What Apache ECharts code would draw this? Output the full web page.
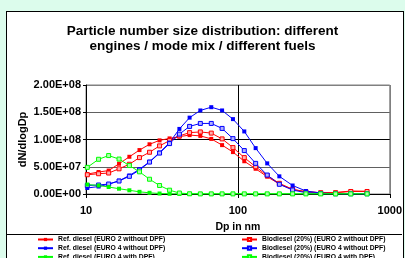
<!DOCTYPE html>
<html>
<head>
<meta charset="utf-8">
<script src="https://cdn.jsdelivr.net/npm/echarts@6/dist/echarts.min.js"></script>
<style>
html,body{margin:0;padding:0;background:#dcfcec;width:405px;height:258px;overflow:hidden;}
#panel{position:absolute;left:6px;top:11px;width:396px;height:260px;border:1px solid #000;background:#fff;}
#chart{position:absolute;left:0;top:0;width:405px;height:258px;}
</style>
</head>
<body>
<div id="panel"></div>
<div id="chart"></div>
<script>
// particle diameters (nm)
const diameters = [10.2, 12.1, 14.1, 16.5, 19.3, 22.5, 26.2, 30.5, 35.5, 41.2, 48.1, 56.6, 66.8, 78.7, 92.8, 110.2, 130.9, 156, 187.5, 229.3, 280.5, 351, 439.7, 554, 708.8];

// dN/dlogDp values
const refEuro2NoDpf = [36.6e6, 40.3e6, 43.0e6, 55.5e6, 68.3e6, 80.6e6, 91.2e6, 98.4e6, 102.0e6, 105.3e6, 108.1e6, 106.6e6, 101.1e6, 89.7e6, 76.9e6, 60.1e6, 46.3e6, 31.7e6, 18.3e6, 8.2e6, 4.0e6, 2.4e6, 2.7e6, 5.5e6, 5.1e6];
const bioEuro2NoDpf = [35.3e6, 37.2e6, 38.5e6, 46.2e6, 54.6e6, 66.8e6, 76.6e6, 88.3e6, 98.0e6, 106.6e6, 112.6e6, 113.9e6, 111.7e6, 101.1e6, 85.2e6, 66.8e6, 50.0e6, 33.9e6, 19.6e6, 8.6e6, 4.2e6, 2.4e6, 2.4e6, 4.6e6, 4.6e6];
const refEuro4NoDpf = [11.0e6, 13.7e6, 17.9e6, 24.4e6, 33.9e6, 45.4e6, 59.2e6, 76.0e6, 94.3e6, 119.4e6, 140.1e6, 153.3e6, 159.3e6, 153.3e6, 137.4e6, 114.8e6, 84.2e6, 56.2e6, 32.4e6, 15.6e6, 5.5e6, 1.8e6, 0.5e6, 0.4e6, 0.4e6];
const bioEuro4NoDpf = [15.6e6, 16.5e6, 18.3e6, 23.8e6, 32.4e6, 44.0e6, 58.6e6, 75.1e6, 92.5e6, 109.9e6, 124.0e6, 129.5e6, 129.5e6, 120.3e6, 101.6e6, 79.7e6, 56.2e6, 34.8e6, 17.8e6, 7.3e6, 2.4e6, 0.9e6, 0.4e6, 0.4e6, 0.4e6];
const refEuro4Dpf = [17.4e6, 15.6e6, 12.8e6, 9.7e6, 6.8e6, 4.0e6, 2.2e6, 0.9e6, 0.4e6, 0.2e6, 0.2e6, 0.2e6, 0.2e6, 0.2e6, 0.2e6, 0.2e6, 0.2e6, 0.2e6, 0.2e6, 0.2e6, 0.2e6, 0.2e6, 0.2e6, 0.2e6, 0.2e6];
const bioEuro4Dpf = [48.9e6, 63.7e6, 70.5e6, 64.1e6, 52.2e6, 40.7e6, 27.1e6, 15.6e6, 7.0e6, 1.8e6, 0.4e6, 0.2e6, 0.2e6, 0.2e6, 0.2e6, 0.2e6, 0.2e6, 0.2e6, 0.2e6, 0.2e6, 0.2e6, 0.2e6, 0.2e6, 0.2e6, 0.2e6];

const seriesNames = [
  'Ref. diesel (EURO 2 without DPF)',
  'Biodiesel (20%) (EURO 2 without DPF)',
  'Ref. diesel (EURO 4 without DPF)',
  'Biodiesel (20%) (EURO 4 without DPF)',
  'Ref. diesel (EURO 4 with DPF)',
  'Biodiesel (20%) (EURO 4 with DPF)'
];
const seriesValues = [refEuro2NoDpf, bioEuro2NoDpf, refEuro4NoDpf, bioEuro4NoDpf, refEuro4Dpf, bioEuro4Dpf];
const lineColors = ['#ff0000', '#ff0000', '#0000ff', '#0000ff', '#00ff00', '#00ff00'];
const markerFills = ['#ff0000', '#ffb0b0', '#0000ff', '#b0b0ff', '#00ff00', '#b0ffb0'];

const FONT = 'Arial, "Liberation Sans", sans-serif';

function sci(v) {
  if (v === 0) return '0.00E+00';
  const e = Math.floor(Math.log10(v) + 1e-9);
  const m = v / Math.pow(10, e);
  return m.toFixed(2) + 'E+' + String(e).padStart(2, '0');
}

const chart = echarts.init(document.getElementById('chart'), null, {renderer: 'canvas'});

const series = seriesNames.map((name, i) => ({
  name: name,
  type: 'line',
  data: diameters.map((d, j) => [d, seriesValues[i][j]]),
  symbol: 'rect',
  symbolSize: 4,
  showSymbol: true,
  animation: false,
  lineStyle: {color: lineColors[i], width: 1},
  itemStyle: {color: markerFills[i], borderColor: lineColors[i], borderWidth: i % 2 === 1 ? 1 : 0}
}));

const legendText = {fontFamily: FONT, fontSize: 6.8, fontWeight: 'bold', color: '#000', lineHeight: 7};

chart.setOption({
  backgroundColor: 'transparent',
  animation: false,
  title: {
    text: 'Particle number size distribution: different\nengines / mode mix / different fuels',
    left: 'center',
    top: 24,
    padding: [0, 0, 0, 16],
    textStyle: {fontFamily: FONT, fontSize: 13.5, fontWeight: 'bold', color: '#000', lineHeight: 15}
  },
  grid: {left: 86, right: 11, top: 85, bottom: 64, show: true, borderColor: '#808080', borderWidth: 1, backgroundColor: 'transparent'},
  xAxis: {
    type: 'log',
    logBase: 10,
    min: 10,
    max: 1000,
    name: 'Dp in nm',
    nameLocation: 'middle',
    nameGap: 28,
    nameMoveOverlap: false,
    nameTextStyle: {fontFamily: FONT, fontSize: 10.5, fontWeight: 'bold', color: '#000'},
    axisLine: {show: true, lineStyle: {color: '#000', width: 1}},
    axisTick: {show: true, length: 4, inside: false, lineStyle: {color: '#000'}},
    minorTick: {show: false},
    axisLabel: {margin: 11, fontFamily: FONT, fontSize: 11, fontWeight: 'bold', color: '#000', formatter: v => String(Math.round(v))},
    splitLine: {show: true, lineStyle: {color: ['#000', '#000', '#808080'], width: 1}}
  },
  yAxis: {
    type: 'value',
    min: 0,
    max: 2e8,
    interval: 5e7,
    name: 'dN/dlogDp',
    nameLocation: 'middle',
    nameGap: 58,
    nameMoveOverlap: false,
    nameTextStyle: {fontFamily: FONT, fontSize: 11, fontWeight: 'bold', color: '#000'},
    axisLine: {show: true, lineStyle: {color: '#000', width: 1}},
    axisTick: {show: true, length: 3, inside: false, lineStyle: {color: '#000'}},
    axisLabel: {margin: 5, fontFamily: FONT, fontSize: 11, fontWeight: 'bold', color: '#000', formatter: sci},
    splitLine: {show: true, lineStyle: {color: ['#000', '#606060', '#000', '#606060', '#808080'], width: 1}}
  },
  legend: [
    {
      data: [seriesNames[0], seriesNames[2], seriesNames[4]],
      orient: 'vertical', left: 37, top: 236, width: 200, height: 40, padding: 0,
      itemWidth: 15, itemHeight: 4, itemGap: 1.7,
      textStyle: legendText
    },
    {
      data: [seriesNames[1], seriesNames[3], seriesNames[5]],
      orient: 'vertical', left: 241, top: 236, width: 160, height: 40, padding: 0,
      itemWidth: 15, itemHeight: 4, itemGap: 1.7,
      textStyle: legendText
    }
  ],
  graphic: [
    {type: 'line', shape: {x1: 7, y1: 234.5, x2: 402, y2: 234.5}, style: {stroke: '#000', lineWidth: 1}, silent: true}
  ],
  series: series
});
</script>
</body>
</html>
